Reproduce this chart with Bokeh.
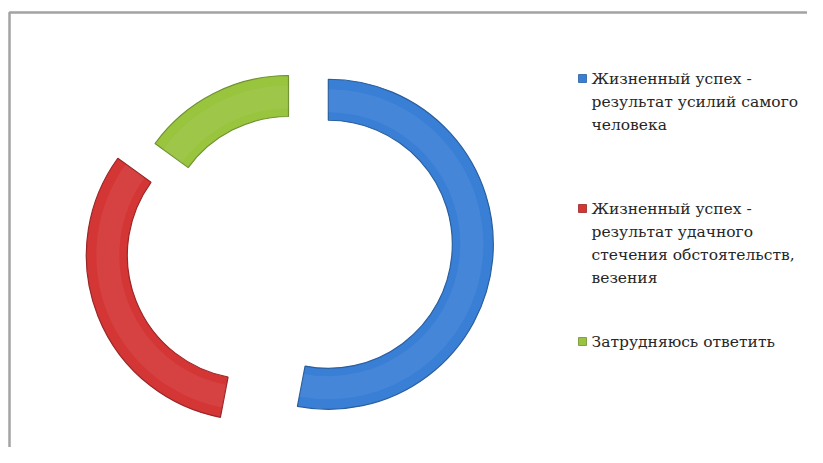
import numpy as np
from bokeh.plotting import figure
from bokeh.models import ColumnDataSource, Range1d
from bokeh.core.properties import value
from bokeh.embed import file_html
from bokeh.resources import INLINE

# ---- data ----
categories = [
    "Жизненный успех - результат усилий самого человека",
    "Жизненный успех - результат удачного стечения обстоятельств, везения",
    "Затрудняюсь ответить",
]
shares = [53, 32, 15]
legend_lines = [
    ["Жизненный успех -", "результат усилий самого", "человека"],
    ["Жизненный успех -", "результат удачного", "стечения обстоятельств,", "везения"],
    ["Затрудняюсь ответить"],
]

# ---- styles ----
colors = ["#3a7fd6", "#d43636", "#98c43e"]
edges = ["#2a5f9e", "#9a2626", "#6f9130"]
explode = [40, 40, 0]

W, H = 807, 447
p = figure(width=W, height=H, output_backend="svg", toolbar_location=None,
           x_range=Range1d(0, W), y_range=Range1d(0, H), min_border=0,
           outline_line_color=None)
p.axis.visible = False
p.grid.visible = False
p.background_fill_color = "white"
p.border_fill_color = "white"

# frame border (chart area): left and top lines
p.line(x=[9, 9, W + 20], y=[-20, H - 12, H - 12], line_color="#a3a3a3", line_width=2.5)

# ---- donut ----
cx, cy = 288, 207
r_out, r_in = 165, 124
fr = np.array(shares, dtype=float) / sum(shares)
ends = np.cumsum(fr) * 2 * np.pi          # clockwise from top
starts = ends - fr * 2 * np.pi
mids = (starts + ends) / 2
ex = np.array(explode, dtype=float)
xs = cx + ex * np.sin(mids)
ys = cy + ex * np.cos(mids)

src = ColumnDataSource(dict(
    x=xs, y=ys,
    start=np.pi / 2 - starts, end=np.pi / 2 - ends,
    color=colors, edge=edges, cat=categories,
))
p.annular_wedge(x="x", y="y", inner_radius=r_in, outer_radius=r_out,
                start_angle="start", end_angle="end", direction="clock",
                fill_color="color", line_color="edge", line_width=1.2, source=src)
# soft highlight band for bevel look
p.annular_wedge(x="x", y="y", inner_radius=r_in + 8, outer_radius=r_out - 10,
                start_angle="start", end_angle="end", direction="clock",
                fill_color="white", fill_alpha=0.06, line_color=None, source=src)

# ---- legend (drawn manually) ----
item_tops = [369, 239, 106]   # first-line y of each item (data coords)
line_gap = 23
mx, my, mc = [], [], []
tx, ty, tt = [], [], []
for i, lines in enumerate(legend_lines):
    mx.append(582)
    my.append(item_tops[i])
    mc.append(colors[i])
    for j, ln in enumerate(lines):
        tx.append(591)
        ty.append(item_tops[i] - j * line_gap)
        tt.append(ln)

p.scatter(x=mx, y=my, marker="square", size=8, fill_color=mc,
          line_color=edges, line_width=0.8)
p.text(x=tx, y=ty, text=tt, text_font=value("DejaVu Serif"),
       text_font_size="15.5px", text_baseline="middle", text_align="left",
       text_color="#262626")

open("out.html", "w").write(file_html(p, INLINE))
